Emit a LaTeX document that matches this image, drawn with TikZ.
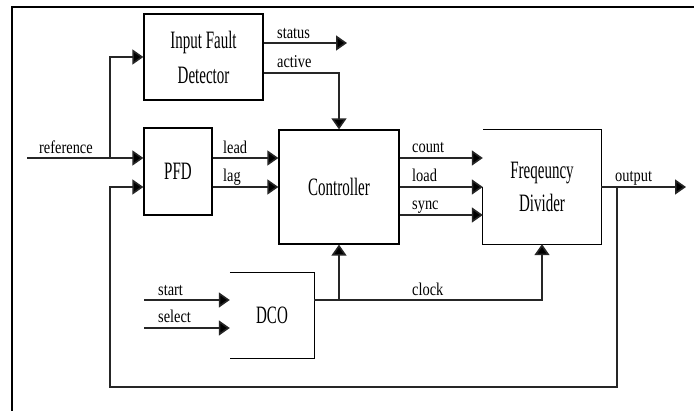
\documentclass[tikz,border=0pt]{standalone}
\usepackage{fontspec}
\setmainfont{Liberation Serif}
\newfontfamily\boxfont[FakeStretch=0.6]{Liberation Serif}
\newfontfamily\lblfont[FakeStretch=0.8]{Liberation Serif}
\usetikzlibrary{arrows.meta}
\begin{document}
\begin{tikzpicture}[x=1pt,y=-1pt,
  box/.style={draw, line width=1.3pt, inner sep=0pt, align=center,
    font=\boxfont\fontsize{25}{35}\selectfont},
  nobox/.style={inner sep=0pt, align=center,
    font=\boxfont\fontsize{25}{33}\selectfont},
  boxline/.style={line width=1.3pt},
  wire/.style={line width=1.6pt, draw=black!85, -{Triangle[length=11pt,width=15pt,fill=black]}},
  plain/.style={line width=1.6pt, draw=black!85},
  lbl/.style={anchor=base west, inner sep=0pt, font=\lblfont\fontsize{18}{20}\selectfont}]
\useasboundingbox (0,0) rectangle (694,411);
\fill[white] (0,0) rectangle (694,411);
\draw[line width=2pt] (12,420) -- (12,7) -- (700,7);

% blocks
\node[box, minimum width=119pt, minimum height=86pt] (ifd) at (203.5,57) {Input Fault\\Detector};
\node[box, minimum width=68pt, minimum height=87pt] (pfd) at (178,171.5) {PFD};
\node[box, minimum width=120pt, minimum height=114pt] (ctrl) at (339,187) {Controller};
\node[nobox, minimum width=118pt, minimum height=114pt] (fd) at (542,187) {Freqeuncy\\Divider};
\node[nobox, minimum width=84pt, minimum height=85pt] (dco) at (272,315.5) {DCO};
\draw[boxline] (fd.south west) ++(0,-57) -- (fd.south west) -- (fd.south east) -- (fd.north east) -- (fd.north west);
\draw[boxline] (dco.north west) -- (dco.north east) -- (dco.south east) -- (dco.south west);

% reference input
\coordinate (refin) at (27,158);
\coordinate (refsplit) at (110,158);
\draw[wire] (refin) -- (refin -| pfd.west);
\draw[wire] (refsplit) |- (ifd.west);

% fault detector outputs
\coordinate (statusout) at ([yshift=14pt]ifd.east);
\coordinate (statusend) at (347,43);
\coordinate (activeout) at ([yshift=-16pt]ifd.east);
\draw[wire] (statusout) -- (statusend);
\draw[wire] (activeout) -| (ctrl.north);

% PFD outputs
\coordinate (lead) at ([yshift=13.5pt]pfd.east);
\coordinate (lag) at ([yshift=-15.5pt]pfd.east);
\draw[wire] (lead) -- (lead -| ctrl.west);
\draw[wire] (lag) -- (lag -| ctrl.west);

% controller outputs
\coordinate (count) at (lead -| ctrl.east);
\coordinate (load) at (ctrl.east);
\coordinate (sync) at ([yshift=-28pt]ctrl.east);
\draw[wire] (count) -- (count -| fd.west);
\draw[wire] (load) -- (load -| fd.west);
\draw[wire] (sync) -- (sync -| fd.west);

% output and feedback
\coordinate (outend) at (686,187);
\coordinate (fbtap) at (617,187);
\coordinate (fbcorner) at (617,387);
\coordinate (fbleft) at (110,387);
\coordinate (pfdlow) at (lag -| pfd.west);
\draw[wire] (fd.east) -- (outend);
\draw[wire] (fbtap) -- (fbcorner) -- (fbleft) |- (pfdlow);

% DCO
\coordinate (startin) at (144,300);
\coordinate (selectin) at (144,328);
\draw[wire] (startin) -- (startin -| dco.west);
\draw[wire] (selectin) -- (selectin -| dco.west);
\coordinate (clk) at ([yshift=15.5pt]dco.east);
\draw[wire] (clk) -| (fd.south);
\draw[wire] (clk -| ctrl.south) -- (ctrl.south);

% labels
\node[lbl] (lref) at (39,154) {reference};
\node[lbl] (lstatus) at (277,39) {status};
\node[lbl] (lactive) at (277,68) {active};
\node[lbl] (llead) at (223,154) {lead};
\node[lbl] (llag) at (223,182) {lag};
\node[lbl] (lcount) at (412,153) {count};
\node[lbl] (lload) at (412,182) {load};
\node[lbl] (lsync) at (412,210) {sync};
\node[lbl] (lout) at (615,182) {output};
\node[lbl] (lstart) at (158,296) {start};
\node[lbl] (lselect) at (158,323) {select};
\node[lbl] (lclock) at (412,296) {clock};
\end{tikzpicture}
\end{document}
